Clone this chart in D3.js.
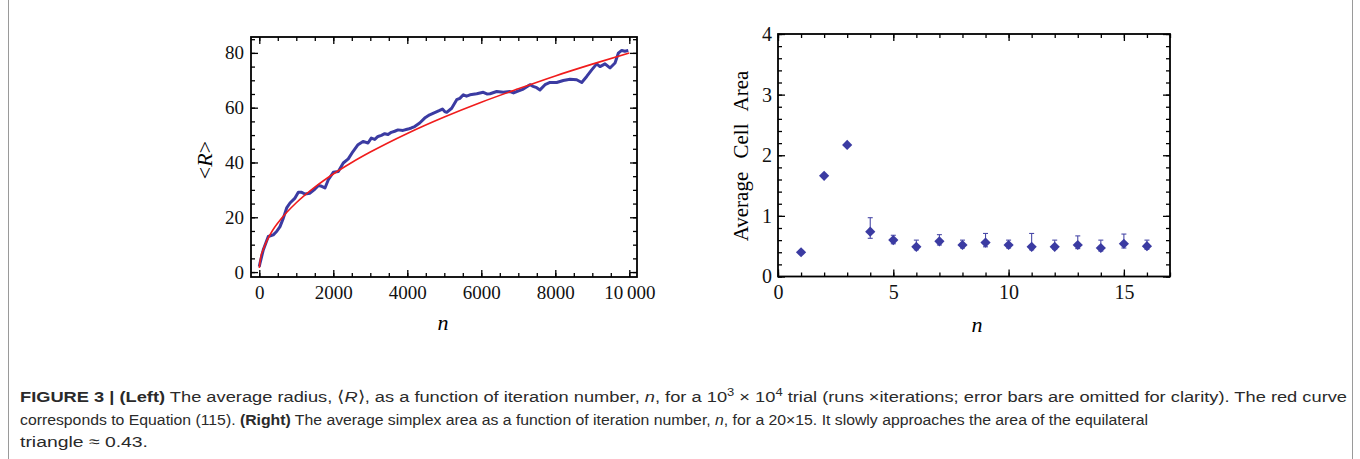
<!DOCTYPE html>
<html lang="en">
<head>
  <meta charset="UTF-8">
  <title>Figure 3</title>
  <style>
    body{ margin:0; background:#fff; }
    .tick text{ font-family:"Liberation Serif", serif; fill:#111; }
    .axis path.domain{ display:none; }
    .axis line{ stroke:#000; stroke-width:1.3; }
    .caption{ font-family:"Liberation Sans", Arial, sans-serif; font-size:15.5px; fill:#2a2a2a; }
  </style>
</head>
<body>
  <script src="https://cdn.jsdelivr.net/npm/d3@7"></script>
  <script>
    // left panel: <R> vs n
    const runN = [0, 20, 108, 243, 378, 468, 560, 650, 740, 830, 965, 1055, 1146, 1235, 1370, 1505, 1600, 1686, 1776, 1865, 2000, 2135, 2270, 2405, 2532, 2668, 2803, 2938, 3027, 3120, 3208, 3300, 3389, 3480, 3568, 3660, 3749, 3884, 4019, 4110, 4200, 4335, 4470, 4605, 4740, 4876, 4950, 5011, 5065, 5200, 5335, 5420, 5514, 5600, 5695, 5876, 6054, 6150, 6235, 6416, 6595, 6776, 6870, 6957, 7135, 7316, 7400, 7497, 7586, 7722, 7857, 8038, 8216, 8397, 8578, 8714, 8849, 8984, 9119, 9208, 9343, 9478, 9614, 9703, 9795, 9880, 9973];
    const runR = [2, 3.3, 8.1, 13.0, 13.6, 14.8, 16.6, 19.7, 23.4, 25.2, 27.0, 29.1, 29.1, 28.5, 28.8, 30.3, 31.6, 31.3, 30.7, 33.7, 36.4, 36.7, 39.8, 41.3, 44.0, 46.5, 47.7, 47.1, 48.9, 48.4, 49.5, 49.9, 50.5, 50.2, 51.0, 51.4, 51.9, 51.7, 52.2, 52.6, 53.1, 54.4, 56.2, 57.4, 58.2, 59.0, 59.5, 58.6, 58.3, 59.8, 62.9, 63.4, 64.7, 64.2, 64.7, 65.1, 65.6, 65.0, 65.1, 65.9, 65.6, 65.9, 65.4, 65.9, 66.8, 68.4, 67.8, 67.3, 66.5, 68.4, 69.2, 69.2, 69.9, 70.4, 70.2, 69.2, 71.4, 73.8, 76.0, 75.0, 76.0, 74.5, 76.3, 79.9, 80.9, 80.6, 80.9];
    const fitN = [0, 40, 100, 200, 350, 500, 750, 1000, 1500, 2000, 2500, 3000, 4000, 5000, 6000, 7000, 8000, 9000, 10000];
    const fitR = [1.5, 5.5, 8, 11.3, 15, 17.9, 21.9, 25.3, 31, 35.8, 40, 43.8, 50.6, 56.6, 62, 66.9, 71.6, 75.9, 80];
    const leftXTicks = [0, 2000, 4000, 6000, 8000, 10000];
    const leftYTicks = [0, 20, 40, 60, 80];

    // right panel: average cell area vs n
    const areaN = [1, 2, 3, 4, 5, 6, 7, 8, 9, 10, 11, 12, 13, 14, 15, 16];
    const areaVal = [0.40, 1.66, 2.17, 0.74, 0.60, 0.49, 0.58, 0.52, 0.56, 0.52, 0.49, 0.49, 0.52, 0.47, 0.54, 0.50];
    const areaHi = [0.40, 1.66, 2.17, 0.97, 0.68, 0.60, 0.69, 0.60, 0.71, 0.60, 0.71, 0.60, 0.67, 0.60, 0.70, 0.60];
    const areaLo = [0.40, 1.66, 2.17, 0.63, 0.54, 0.44, 0.52, 0.47, 0.49, 0.47, 0.44, 0.45, 0.46, 0.42, 0.47, 0.45];
    const rightXTicks = [0, 5, 10, 15];
    const rightYTicks = [0, 1, 2, 3, 4];

    const W = 1360, H = 459;
    const svg = d3.select('body').append('svg').attr('width', W).attr('height', H);

    // figure box lines
    svg.append('line').attr('x1', 8.5).attr('x2', 8.5).attr('y1', 0).attr('y2', H).attr('stroke', '#9a9a9a');
    svg.append('line').attr('x1', 1352.5).attr('x2', 1352.5).attr('y1', 0).attr('y2', H).attr('stroke', '#9a9a9a');

    function frameAxes(g, x, y, o) {
      const [x0, x1] = x.range(), [y0, y1] = y.range();
      const major = 7, minor = 4;
      const add = (axis, tr) => g.append('g').attr('class', 'axis').attr('transform', tr).call(axis);
      // minor ticks
      add(d3.axisBottom(x).tickValues(o.xMinor).tickSize(-minor).tickFormat(''), `translate(0,${y0})`);
      add(d3.axisTop(x).tickValues(o.xMinor).tickSize(-minor).tickFormat(''), `translate(0,${y1})`);
      add(d3.axisLeft(y).tickValues(o.yMinor).tickSize(-minor).tickFormat(''), `translate(${x0},0)`);
      add(d3.axisRight(y).tickValues(o.yMinor).tickSize(-minor).tickFormat(''), `translate(${x1},0)`);
      // major ticks + labels
      const bx = add(d3.axisBottom(x).tickValues(o.xTicks).tickSize(-major).tickPadding(o.xPad).tickFormat(o.xFmt), `translate(0,${y0})`);
      add(d3.axisTop(x).tickValues(o.xTicks).tickSize(-major).tickFormat(''), `translate(0,${y1})`);
      const ly = add(d3.axisLeft(y).tickValues(o.yTicks).tickSize(-major).tickPadding(o.yPad).tickFormat(d3.format('d')), `translate(${x0},0)`);
      add(d3.axisRight(y).tickValues(o.yTicks).tickSize(-major).tickFormat(''), `translate(${x1},0)`);
      bx.selectAll('text').attr('font-size', o.fs).attr('fill', '#111');
      ly.selectAll('text').attr('font-size', o.fs).attr('fill', '#111');
      g.append('rect').attr('x', x0).attr('y', y1).attr('width', x1 - x0).attr('height', y0 - y1)
        .attr('fill', 'none').attr('stroke', '#000').attr('stroke-width', 1.8);
    }

    // ---------- left panel ----------
    const xL = d3.scaleLinear().domain([-224, 10208]).range([251, 637]);
    const yL = d3.scaleLinear().domain([-1.8, 85.8]).range([277, 37]);
    const gL = svg.append('g');

    gL.append('path').datum(d3.zip(runN, runR))
      .attr('fill', 'none').attr('stroke', '#3b3ba2').attr('stroke-width', 3).attr('stroke-linejoin', 'round')
      .attr('d', d3.line().x(d => xL(d[0])).y(d => yL(d[1])));
    gL.append('path').datum(d3.zip(fitN, fitR))
      .attr('fill', 'none').attr('stroke', '#f01c1c').attr('stroke-width', 1.6)
      .attr('d', d3.line().x(d => xL(d[0])).y(d => yL(d[1])).curve(d3.curveMonotoneX));

    frameAxes(gL, xL, yL, {
      xTicks: leftXTicks, yTicks: leftYTicks,
      xMinor: d3.range(0, 10001, 500), yMinor: d3.range(0, 86, 5),
      xFmt: d => d === 10000 ? '10\u2009000' : String(d), xPad: 9, yPad: 7, fs: 19
    });

    gL.append('text').attr('transform', 'translate(212,160) rotate(-90)')
      .attr('text-anchor', 'middle').attr('font-family', 'Liberation Serif').attr('font-size', 22)
      .html('&lt;<tspan font-style="italic">R</tspan>&gt;');
    gL.append('text').attr('x', 443).attr('y', 330).attr('text-anchor', 'middle')
      .attr('font-family', 'Liberation Serif').attr('font-style', 'italic').attr('font-size', 22).text('n');

    // ---------- right panel ----------
    const xR = d3.scaleLinear().domain([0, 17]).range([778, 1170]);
    const yR = d3.scaleLinear().domain([0, 4]).range([276.5, 34]);
    const gR = svg.append('g');
    const blue = '#3b3ba2';

    const pts = areaN.map((n, i) => ({ n, v: areaVal[i], hi: areaHi[i], lo: areaLo[i] }));
    const eb = gR.append('g').attr('stroke', '#4a4aa8').attr('stroke-width', 1.1);
    pts.filter(d => d.hi > d.v).forEach(d => {
      const cx = xR(d.n);
      eb.append('line').attr('x1', cx).attr('x2', cx).attr('y1', yR(d.lo)).attr('y2', yR(d.hi));
      eb.append('line').attr('x1', cx - 2.5).attr('x2', cx + 2.5).attr('y1', yR(d.hi)).attr('y2', yR(d.hi));
      eb.append('line').attr('x1', cx - 2.5).attr('x2', cx + 2.5).attr('y1', yR(d.lo)).attr('y2', yR(d.lo));
    });
    gR.selectAll('path.pt').data(pts).join('path').attr('class', 'pt')
      .attr('d', d3.symbol(d3.symbolSquare, 52)())
      .attr('transform', d => `translate(${xR(d.n)},${yR(d.v)}) rotate(45)`)
      .attr('fill', blue);

    frameAxes(gR, xR, yR, {
      xTicks: rightXTicks, yTicks: rightYTicks,
      xMinor: d3.range(0, 18, 1), yMinor: d3.range(0, 4.01, 0.2),
      xFmt: d3.format('d'), xPad: 8, yPad: 6, fs: 20
    });

    gR.append('text').attr('transform', 'translate(748,156) rotate(-90)')
      .attr('text-anchor', 'middle').attr('font-family', 'Liberation Serif').attr('font-size', 21)
      .attr('word-spacing', 8).text('Average Cell Area');
    gR.append('text').attr('x', 977).attr('y', 332).attr('text-anchor', 'middle')
      .attr('font-family', 'Liberation Serif').attr('font-style', 'italic').attr('font-size', 22).text('n');

    // ---------- caption ----------
    const cap = svg.append('g').attr('class', 'caption');
    cap.append('text').attr('x', 20).attr('y', 402).attr('textLength', 1327).attr('lengthAdjust', 'spacingAndGlyphs')
      .html('<tspan font-weight="bold">FIGURE 3 | (Left)</tspan> The average radius, \u27e8<tspan font-style="italic">R</tspan>\u27e9, as a function of iteration number, <tspan font-style="italic">n</tspan>, for a 10<tspan dy="-6" font-size="11">3</tspan><tspan dy="6"> \u00d7 10</tspan><tspan dy="-6" font-size="11">4</tspan><tspan dy="6"> trial (runs \u00d7iterations; error bars are omitted for clarity). The red curve</tspan>');
    cap.append('text').attr('x', 20).attr('y', 425).attr('textLength', 1128).attr('lengthAdjust', 'spacingAndGlyphs')
      .html('corresponds to Equation (115). <tspan font-weight="bold">(Right)</tspan> The average simplex area as a function of iteration number, <tspan font-style="italic">n</tspan>, for a 20\u00d715. It slowly approaches the area of the equilateral');
    cap.append('text').attr('x', 20).attr('y', 447).attr('textLength', 128).attr('lengthAdjust', 'spacingAndGlyphs')
      .text('triangle \u2248 0.43.');
  </script>
</body>
</html>
